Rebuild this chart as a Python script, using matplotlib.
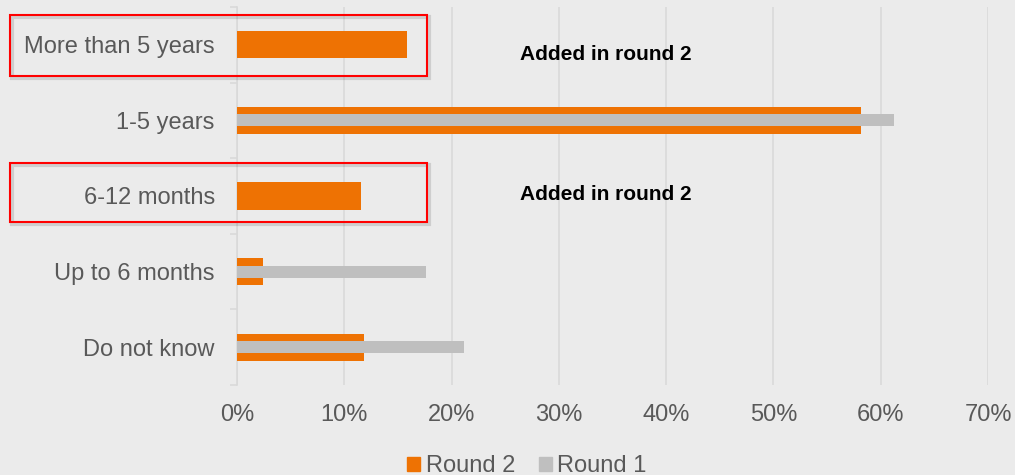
import matplotlib.pyplot as plt
from matplotlib.patches import Rectangle, Patch

# data
categories = ["More than 5 years", "1-5 years", "6-12 months", "Up to 6 months", "Do not know"]
round2 = [15.8, 58.2, 11.6, 2.4, 11.8]
round1 = [None, 61.2, None, 17.6, 21.2]
xticks = [0, 10, 20, 30, 40, 50, 60, 70]
added_note = "Added in round 2"
added_cats = ["More than 5 years", "6-12 months"]

bg = "#ebebeb"
orange = "#ee7203"
grey = "#bfbfbf"
text_col = "#595959"
grid_col = "#d9d9d9"

plt.rcParams['font.family'] = ['Liberation Sans', 'DejaVu Sans']

W, H = 1015, 475
fig = plt.figure(figsize=(W / 100, H / 100), dpi=100, facecolor=bg)
ax = fig.add_axes([237 / W, 1 - 385 / H, (988 - 237) / W, (385 - 7) / H])
ax.set_facecolor(bg)

y = list(range(len(categories)))
ax.barh(y, round2, height=0.36, color=orange, zorder=3)
r1_y = [i for i, v in zip(y, round1) if v is not None]
r1_v = [v for v in round1 if v is not None]
ax.barh(r1_y, r1_v, height=0.16, color=grey, zorder=4)

ax.set_ylim(len(categories) - 0.5, -0.5)
ax.set_xlim(0, 70)
ax.set_yticks(y)
ax.set_yticklabels(categories, fontsize=17, color=text_col)
ax.set_yticks([i - 0.5 for i in range(len(categories) + 1)], minor=True)
ax.tick_params(axis='y', which='major', length=0, pad=16)
ax.tick_params(axis='y', which='minor', length=5, color=grid_col, width=1.2)
ax.set_xticks(xticks)
ax.set_xticklabels([f"{t}%" for t in xticks], fontsize=17, color=text_col)
ax.tick_params(axis='x', length=0, pad=14)
ax.grid(axis='x', color=grid_col, lw=1.2, zorder=0)
for s in ['top', 'right', 'bottom']:
    ax.spines[s].set_visible(False)
ax.spines['left'].set_color(grid_col)
ax.spines['left'].set_linewidth(1.2)

# red highlight boxes around the new categories (pixel coords of the figure)
def px_box(x0, y0, x1, y1):
    # soft shadow then the red frame
    sh = Rectangle((x0 / W + 2 / W, 1 - y1 / H - 2 / H), (x1 - x0) / W, (y1 - y0) / H,
                   transform=fig.transFigure, fill=False, edgecolor="#000000",
                   alpha=0.12, lw=3, zorder=5)
    fig.patches.append(sh)
    r = Rectangle((x0 / W, 1 - y1 / H), (x1 - x0) / W, (y1 - y0) / H,
                  transform=fig.transFigure, fill=False, edgecolor="#ff0000",
                  lw=1.5, zorder=6)
    fig.patches.append(r)

px_box(10, 15, 427, 76)
px_box(10, 163, 427, 222)

note_y = [54, 194]
for cat, ny in zip(added_cats, note_y):
    fig.text(520 / W, 1 - ny / H, added_note, fontsize=15, fontweight='bold',
             color='black', va='center', ha='left')

handles = [Patch(color=orange, label="Round 2"), Patch(color=grey, label="Round 1")]
fig.legend(handles=handles, loc='center', bbox_to_anchor=(527 / W, 1 - 466 / H),
           ncol=2, frameon=False, fontsize=17, labelcolor=text_col,
           handlelength=0.54, handleheight=0.54, handletextpad=0.25,
           columnspacing=1.0, borderpad=0)

fig.savefig("out.png", dpi=100, facecolor=bg)
